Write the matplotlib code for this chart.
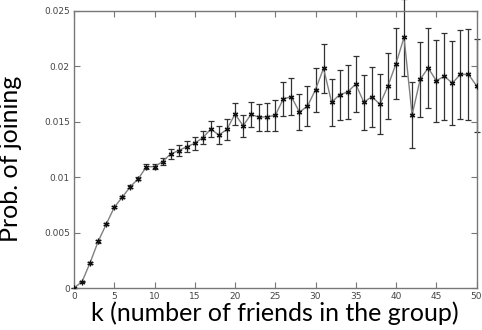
import matplotlib
matplotlib.use("Agg")
from matplotlib import pyplot as plt
import numpy as np

# ===================== Data =====================
k = list(range(0, 51))
prob = [
    0.0, 0.00057, 0.00228, 0.0042, 0.00575, 0.00728, 0.0082, 0.00915, 0.00987, 0.01095,
    0.01095, 0.0114, 0.0121, 0.0124, 0.01275, 0.01306, 0.01357, 0.01435, 0.0138, 0.01432,
    0.0157, 0.01465, 0.01567, 0.0154, 0.01546, 0.01558, 0.01706, 0.01727, 0.01588, 0.0164,
    0.0179, 0.01983, 0.01676, 0.01745, 0.01769, 0.01841, 0.01676, 0.01727, 0.01658, 0.01823,
    0.02025, 0.02262, 0.01561, 0.01883, 0.01986, 0.01871, 0.0191, 0.0185, 0.01928, 0.01928,
    0.01826,
]
err = [
    0.00003, 0.00006, 0.0001, 0.0001, 0.0001, 0.0001, 0.00012, 0.00013, 0.00015, 0.0002,
    0.0002, 0.0003, 0.00045, 0.0005, 0.0005, 0.0006, 0.0006, 0.0007, 0.0008, 0.00095,
    0.001, 0.00098, 0.00116, 0.0012, 0.00128, 0.0014, 0.00153, 0.0017, 0.0016, 0.0018,
    0.002, 0.0022, 0.0021, 0.00226, 0.0024, 0.0025, 0.0025, 0.0027, 0.0027, 0.003,
    0.0032, 0.0035, 0.003, 0.0034, 0.0036, 0.0037, 0.0039, 0.0038, 0.004, 0.0041,
    0.0042,
]
xticks = [0, 5, 10, 15, 20, 25, 30, 35, 40, 45, 50]
yticks = [0, 0.005, 0.01, 0.015, 0.02, 0.025]
ytick_labels = ["0", "0.005", "0.01", "0.015", "0.02", "0.025"]

# ===================== Figure =====================
fig = plt.figure(figsize=(4.82, 3.30), dpi=100)
ax = fig.add_axes([74 / 482, 1 - 288 / 330, 402.5 / 482, 277 / 330])

frame_col = "#777777"

# error bars: let the big one at k=41 poke out of the top like the original
ax.errorbar(k, prob, yerr=err, fmt="none", ecolor="#333333", elinewidth=0.9,
            capsize=2.2, capthick=0.9, clip_on=False, zorder=2)
ax.plot(k, prob, color="#808080", lw=1.0, zorder=3)
ax.plot(k, prob, ls="none", marker=(6, 2, 0), ms=4, mew=0.9,
        mec="#111111", zorder=4)

ax.set_xlim(0, 50)
ax.set_ylim(0, 0.025)
ax.set_xticks(xticks)
ax.set_yticks(yticks)
ax.set_yticklabels(ytick_labels)

ax.tick_params(direction="in", length=4, width=0.8, color=frame_col,
               top=True, right=True, labelsize=6.5, labelcolor="#444444", pad=3)
for s in ax.spines.values():
    s.set_color(frame_col)
    s.set_linewidth(1.0)

ax.set_xlabel("k (number of friends in the group)", fontsize=18,
              family=["Lato", "DejaVu Sans"], labelpad=0)
ax.set_ylabel("Prob. of joining", fontsize=18,
              family=["Lato", "DejaVu Sans"])
ax.yaxis.set_label_coords(-0.13, 0.465)

fig.savefig("out.png", dpi=100)
